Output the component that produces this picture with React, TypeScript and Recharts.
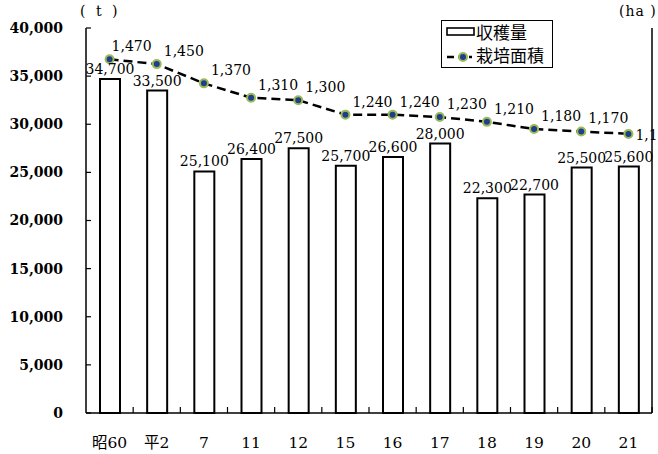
import React from 'react';
import { Bar, ComposedChart, LabelList, Line, XAxis, YAxis } from 'recharts';

const years = ['昭60', '平2', '7', '11', '12', '15', '16', '17', '18', '19', '20', '21'];
const harvest = [34700, 33500, 25100, 26400, 27500, 25700, 26600, 28000, 22300, 22700, 25500, 25600];
const area = [1470, 1450, 1370, 1310, 1300, 1240, 1240, 1230, 1210, 1180, 1170, 1160];
const harvestTicks = [0, 5000, 10000, 15000, 20000, 25000, 30000, 35000, 40000];
const areaTicks = [0, 200, 400, 600, 800, 1000, 1200, 1400, 1600];

const data = years.map((year, i) => ({ year, harvest: harvest[i], area: area[i] }));

const SERIF = "'DejaVu Serif', 'Noto Sans CJK JP', serif";
const GOTHIC = "'Noto Sans CJK JP', 'Noto Sans', sans-serif";
const fmt = (v: number) => Number(v).toLocaleString('en-US');

const HALF_BAND = (652 - 86) / 12 / 2;

function YearTick(props: any) {
  const { x, y, payload } = props;
  const half = payload && payload.offset ? payload.offset : HALF_BAND;
  return (
    <g>
      <line x1={x + half} x2={x + half} y1={y} y2={y - 6} stroke="#000" strokeWidth={1.2} />
      <text x={x} y={y + 35} textAnchor="middle" fontSize={15.5} fontFamily={SERIF} fill="#000">
        {payload.value}
      </text>
    </g>
  );
}

function AreaDot(props: any) {
  const { cx, cy } = props;
  if (cx == null || cy == null) return null;
  return <circle cx={cx} cy={cy} r={4} fill="#1f3f8a" stroke="#9bbb59" strokeWidth={2} />;
}

function AreaLabel(props: any) {
  const { x, y, value, index } = props;
  const last = index === area.length - 1;
  return (
    <text
      x={x + (index === 0 ? 2 : 7)}
      y={last ? y + 6 : y - 8}
      textAnchor="start"
      fontSize={14}
      fontFamily={SERIF}
      fill="#000"
    >
      {fmt(value)}
    </text>
  );
}

function Legend() {
  return (
    <div
      style={{
        position: 'absolute',
        left: 441,
        top: 20,
        width: 112,
        height: 48,
        border: '1.5px solid #000',
        boxSizing: 'border-box',
        background: '#fff',
      }}
    >
      <svg width={30} height={12} style={{ position: 'absolute', left: 4, top: 5 }}>
        <rect x={1} y={2} width={27} height={7} fill="#fff" stroke="#000" strokeWidth={1.6} />
      </svg>
      <div style={{ position: 'absolute', left: 34, top: 1, fontSize: 17, lineHeight: '20px', fontFamily: GOTHIC }}>
        収穫量
      </div>
      <svg width={30} height={12} style={{ position: 'absolute', left: 4, top: 30 }}>
        <line x1={1} x2={26} y1={6} y2={6} stroke="#000" strokeWidth={2.5} strokeDasharray="7 4" />
        <circle cx={17} cy={6} r={4} fill="#1f3f8a" stroke="#9bbb59" strokeWidth={2} />
      </svg>
      <div style={{ position: 'absolute', left: 34, top: 24, fontSize: 17, lineHeight: '20px', fontFamily: GOTHIC }}>
        栽培面積
      </div>
    </div>
  );
}

export default function App() {
  return (
    <div style={{ position: 'absolute', left: 0, top: 0, width: 658, height: 454, background: '#fff' }}>
      <ComposedChart width={658} height={454} data={data} margin={{ top: 28, right: 0, bottom: 11, left: 0 }}>
        <XAxis
          dataKey="year"
          xAxisId="x"
          height={30}
          tickLine={false}
          tickSize={0}
          tickMargin={0}
          axisLine={{ stroke: '#000', strokeWidth: 1.5 }}
          tick={<YearTick />}
          interval={0}
        />
        <YAxis
          yAxisId="t"
          width={86}
          domain={[0, 40000]}
          ticks={harvestTicks}
          tickFormatter={fmt}
          tickSize={-5}
          tickMargin={28}
          axisLine={{ stroke: '#000', strokeWidth: 1.5 }}
          tickLine={{ stroke: '#000', strokeWidth: 1.2 }}
          tick={{ fill: '#000', fontSize: 14, fontWeight: 'bold', fontFamily: SERIF }}
          interval={0}
        />
        <YAxis
          yAxisId="ha"
          orientation="right"
          width={6}
          domain={[0, 1600]}
          ticks={areaTicks}
          tick={false}
          tickSize={-7}
          axisLine={{ stroke: '#000', strokeWidth: 1.5 }}
          tickLine={{ stroke: '#000', strokeWidth: 1.2 }}
          interval={0}
        />
        <Bar
          xAxisId="x"
          yAxisId="t"
          dataKey="harvest"
          barSize={20}
          fill="#fff"
          stroke="#000"
          strokeWidth={2}
          isAnimationActive={false}
        >
          <LabelList
            dataKey="harvest"
            position="top"
            formatter={(v: any) => fmt(v)}
            style={{ fill: '#000', fontSize: 14, fontFamily: SERIF }}
          />
        </Bar>
        <Line
          xAxisId="x"
          yAxisId="ha"
          dataKey="area"
          stroke="#000"
          strokeWidth={2.5}
          strokeDasharray="9 5"
          dot={<AreaDot />}
          activeDot={false}
          isAnimationActive={false}
        >
          <LabelList dataKey="area" content={<AreaLabel />} />
        </Line>
      </ComposedChart>
      <div style={{ position: 'absolute', left: 80, top: 3, fontSize: 14, fontFamily: SERIF, letterSpacing: 3, whiteSpace: 'pre' }}>
        ( t )
      </div>
      <div style={{ position: 'absolute', left: 619, top: 3, fontSize: 14, fontFamily: SERIF, letterSpacing: 1, whiteSpace: 'pre' }}>
        (ha )
      </div>
      <Legend />
    </div>
  );
}
